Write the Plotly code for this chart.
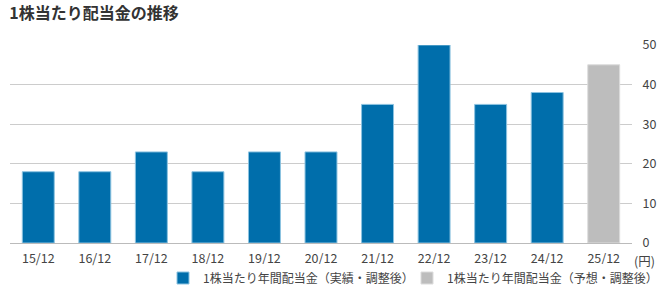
import plotly.graph_objects as go

categories = ["15/12", "16/12", "17/12", "18/12", "19/12", "20/12", "21/12", "22/12", "23/12", "24/12", "25/12"]
actual_cats = categories[:10]
actual_vals = [18, 18, 23, 18, 23, 23, 35, 50, 35, 38]
forecast_cats = categories[10:]
forecast_vals = [45]
y_ticks = [0, 10, 20, 30, 40, 50]

FONT = "Noto Sans CJK JP, Meiryo, sans-serif"

fig = go.Figure()
fig.add_trace(go.Bar(
    x=actual_cats, y=actual_vals, name="1株当たり年間配当金（実績・調整後）",
    marker=dict(color="#006eab", line=dict(color="#8cc3e0", width=1)),
))
fig.add_trace(go.Bar(
    x=forecast_cats, y=forecast_vals, name="1株当たり年間配当金（予想・調整後）",
    marker=dict(color="#bdbdbd", line=dict(color="#dcdcdc", width=1)),
))

fig.update_layout(
    width=660, height=290,
    margin=dict(l=10, r=28, t=45, b=47, autoexpand=False),
    paper_bgcolor="white", plot_bgcolor="white",
    font=dict(family=FONT, size=12, color="#444"),
    barmode="overlay", bargap=0.435,
    showlegend=True,
    title=dict(text="<b>1株当たり配当金の推移</b>", x=0.014, xanchor="left", y=0.955, yanchor="middle",
               font=dict(family=FONT, size=16, color="#333")),
    legend=dict(orientation="h", xref="container", yref="container", x=163 / 660, xanchor="left",
                y=12 / 290, yanchor="middle", font=dict(family=FONT, size=12, color="#444"),
                itemclick=False, traceorder="normal", entrywidth=199, entrywidthmode="pixels"),
    xaxis=dict(categoryorder="array", categoryarray=categories, range=[-0.5, 10.5],
               showgrid=False, showline=False, ticks="outside", ticklen=4, tickcolor="rgba(0,0,0,0)",
               tickfont=dict(size=12.5, color="#444"), fixedrange=True),
    yaxis=dict(side="right", range=[0, 50], tickvals=y_ticks, gridcolor="#cccccc", gridwidth=1,
               zeroline=True, zerolinecolor="#bbbbbb", zerolinewidth=1, showline=False,
               ticks="outside", ticklen=7, tickcolor="rgba(0,0,0,0)",
               tickfont=dict(size=12.5, color="#444"), fixedrange=True),
)

fig.add_annotation(text="(円)", xref="paper", yref="paper", x=1.0, y=0, xanchor="right", yanchor="top",
                   xshift=25, yshift=-6, showarrow=False, font=dict(family=FONT, size=12.5, color="#444"))

fig.write_html("out.html")
